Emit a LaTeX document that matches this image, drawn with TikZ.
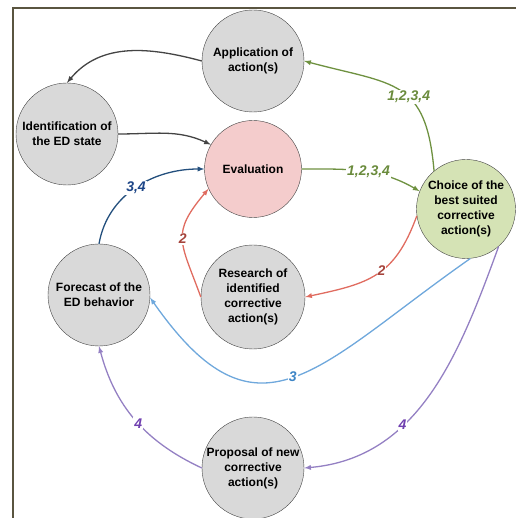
\documentclass[tikz,border=0pt]{standalone}
\usepackage{fontspec}
\setmainfont{Liberation Sans}
\usetikzlibrary{shapes}
\definecolor{framecol}{HTML}{5A5540}
\definecolor{stategray}{HTML}{D9D9D9}
\definecolor{evalpink}{HTML}{F4CCCC}
\definecolor{choicegreen}{HTML}{D5E3B5}
\definecolor{darkline}{HTML}{444444}
\definecolor{greenline}{HTML}{6E9140}
\definecolor{greentext}{HTML}{6A8B3C}
\definecolor{redline}{HTML}{E06C60}
\definecolor{redtext}{HTML}{A5433B}
\definecolor{navyline}{HTML}{234F7D}
\definecolor{navytext}{HTML}{1C4587}
\definecolor{skyline}{HTML}{6FA8DC}
\definecolor{skytext}{HTML}{3D85C6}
\definecolor{purpleline}{HTML}{9480C3}
\definecolor{purpletext}{HTML}{7040B0}
\tikzset{>=latex}
\tikzset{
  stage/.style = {circle, draw=darkline, fill=stategray, minimum size=102pt,
    inner sep=0pt, align=center, font=\bfseries\fontsize{12}{15}\selectfont},
  flow/.style = {->, line width=1.3pt},
  tag/.style = {fill=white, inner sep=1pt, font=\bfseries\itshape\fontsize{14}{14}\selectfont}
}

\begin{document}
\begin{tikzpicture}[x=1pt,y=1pt]
  \useasboundingbox (0,0) rectangle (516,518);
  % frame
  \draw[framecol, line width=2pt] (13,0) -- (13,510) -- (516,510);
  % stages
  \node (app) at (253,457) [stage] {Application of\\action(s)};
  \node (ident) at (67,384) [stage] {Identification of\\the ED state};
  \node (eval) at (253,349) [stage, fill=evalpink, minimum size=97pt] {Evaluation};
  \node (choice) at (466,309) [stage, fill=choicegreen, minimum size=99pt] {Choice of the\\best suited\\corrective\\action(s)};
  \node (forecast) at (99,223) [stage] {Forecast of the\\ED behavior};
  \node (research) at (253,221) [stage, minimum size=104pt] {Research of\\identified\\corrective\\action(s)};
  \node (proposal) at (253,50) [stage] {Proposal of new\\corrective\\action(s)};
  % black arrows
  \draw[flow,darkline] (app.west) to[out=165,in=50] (ident.north);
  \draw[flow,darkline] (ident.east) to[out=0,in=155] (eval.150);
  % green arrows
  \draw[flow,greenline] (eval.east) to[out=0,in=150] node[tag,text=greentext,pos=0.55] {1,2,3,4} (choice.159);
  \draw[flow,greenline] (choice.130) to[out=95,in=-15,looseness=1.4] node[tag,text=greentext,pos=0.42] {1,2,3,4} (app.east);
  % red arrows
  \draw[flow,redline] (choice.188) to[out=250,in=12,looseness=1.2] node[tag,text=redtext,pos=0.45] {2} (research.east);
  \draw[flow,redline] (research.west) to[out=110,in=230,looseness=1.4] node[tag,text=redtext] {2} (eval.204);
  % blue arrows
  \draw[flow,navyline] (forecast.north) to[out=80,in=180] node[tag,text=navytext] {3,4} (eval.west);
  \draw[flow,skyline] (choice.275) to[out=215,in=-55,looseness=1.5] node[tag,text=skytext] {3} (forecast.357);
  % purple arrows
  \draw[flow,purpleline] (choice.311) to[out=250,in=5] node[tag,text=purpletext,pos=0.64] {4} (proposal.east);
  \draw[flow,purpleline] (proposal.west) to[out=155,in=-75] node[tag,text=purpletext,pos=0.47] {4} (forecast.south);
\end{tikzpicture}
\end{document}
